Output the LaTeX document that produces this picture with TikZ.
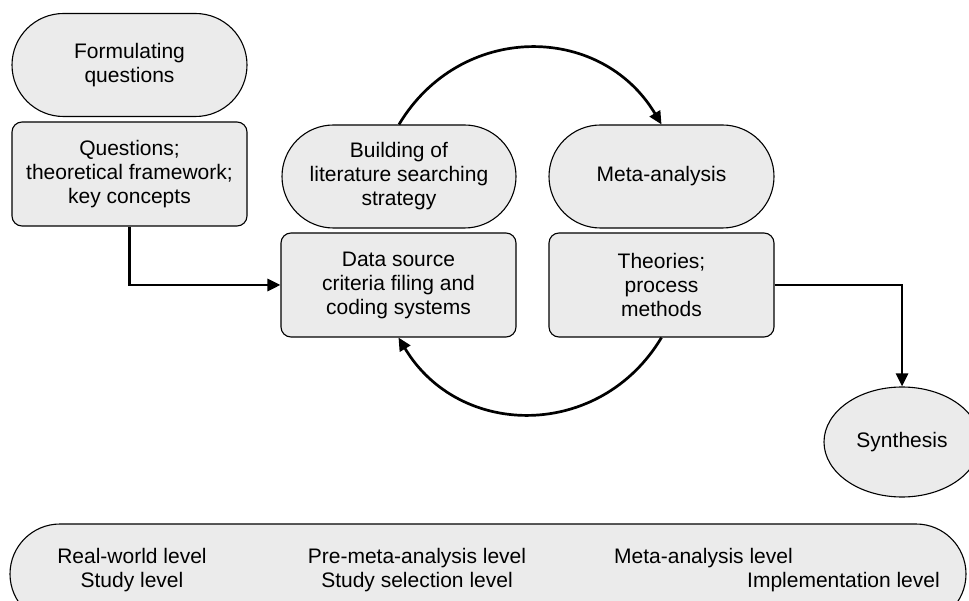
\documentclass[tikz,border=0pt]{standalone}
\usepackage{fontspec}
\setmainfont{Liberation Sans}
\usetikzlibrary{shapes.misc,shapes.geometric,arrows.meta}
\definecolor{boxfill}{RGB}{235,235,235}
\begin{document}
\begin{tikzpicture}[x=1pt,y=-1pt,
  txt/.style={font=\fontsize{21}{24}\selectfont},
  base/.style={txt,draw=black,line width=1.1pt,fill=boxfill,align=center,inner sep=0pt},
  pill/.style={base,rounded rectangle,minimum width=#1,minimum height=103pt},
  rbox/.style={base,rectangle,rounded corners=10pt,minimum width=#1,minimum height=104pt},
  arr/.style={line width=2.7pt,-{Triangle[length=13pt,width=12pt]}},
  lvl/.style={txt,anchor=base,inner sep=0pt}
]
\useasboundingbox (0,0) rectangle (969,601);
\clip (0,0) rectangle (969,601);

\node[pill=235pt] (formq) at (129.5,65) {Formulating\\questions};
\node[rbox=235pt] (quest) at (129.5,174) {Questions;\\theoretical framework;\\key concepts};
\node[pill=234pt] (build) at (399,176.5) {Building of\\literature searching\\strategy};
\node[rbox=235pt] (data) at (398.5,285) {Data source\\criteria filing and\\coding systems};
\node[pill=225pt] (meta) at (661.5,176.5) {Meta-analysis};
\node[rbox=225pt] (theo) at (661.5,285) {Theories;\\process\\methods};
\node[base,ellipse,minimum width=156pt,minimum height=110pt] (synth) at (902,442) {Synthesis};

\node[base,rounded rectangle,minimum width=956pt,minimum height=100pt] (levels) at (488,574) {};
\node[lvl] (l1a) at (132,563) {Real-world level};
\node[lvl] (l1b) at (132,587) {Study level};
\node[lvl] (l2a) at (417,563) {Pre-meta-analysis level};
\node[lvl] (l2b) at (417,587) {Study selection level};
\node[lvl,anchor=base west] (l3a) at (614,563) {Meta-analysis level};
\node[lvl,anchor=base east] (l3b) at (940,587) {Implementation level};

\draw[arr] (quest.south) |- (data.west);
\draw[arr] (theo.east) -| (synth.north);
\draw[arr] (build.north) .. controls +(61,-102) and +(-61,-102) .. (meta.north);
\draw[arr] (theo.south) .. controls +(-61,102) and +(61,102) .. (data.south);
\end{tikzpicture}
\end{document}
